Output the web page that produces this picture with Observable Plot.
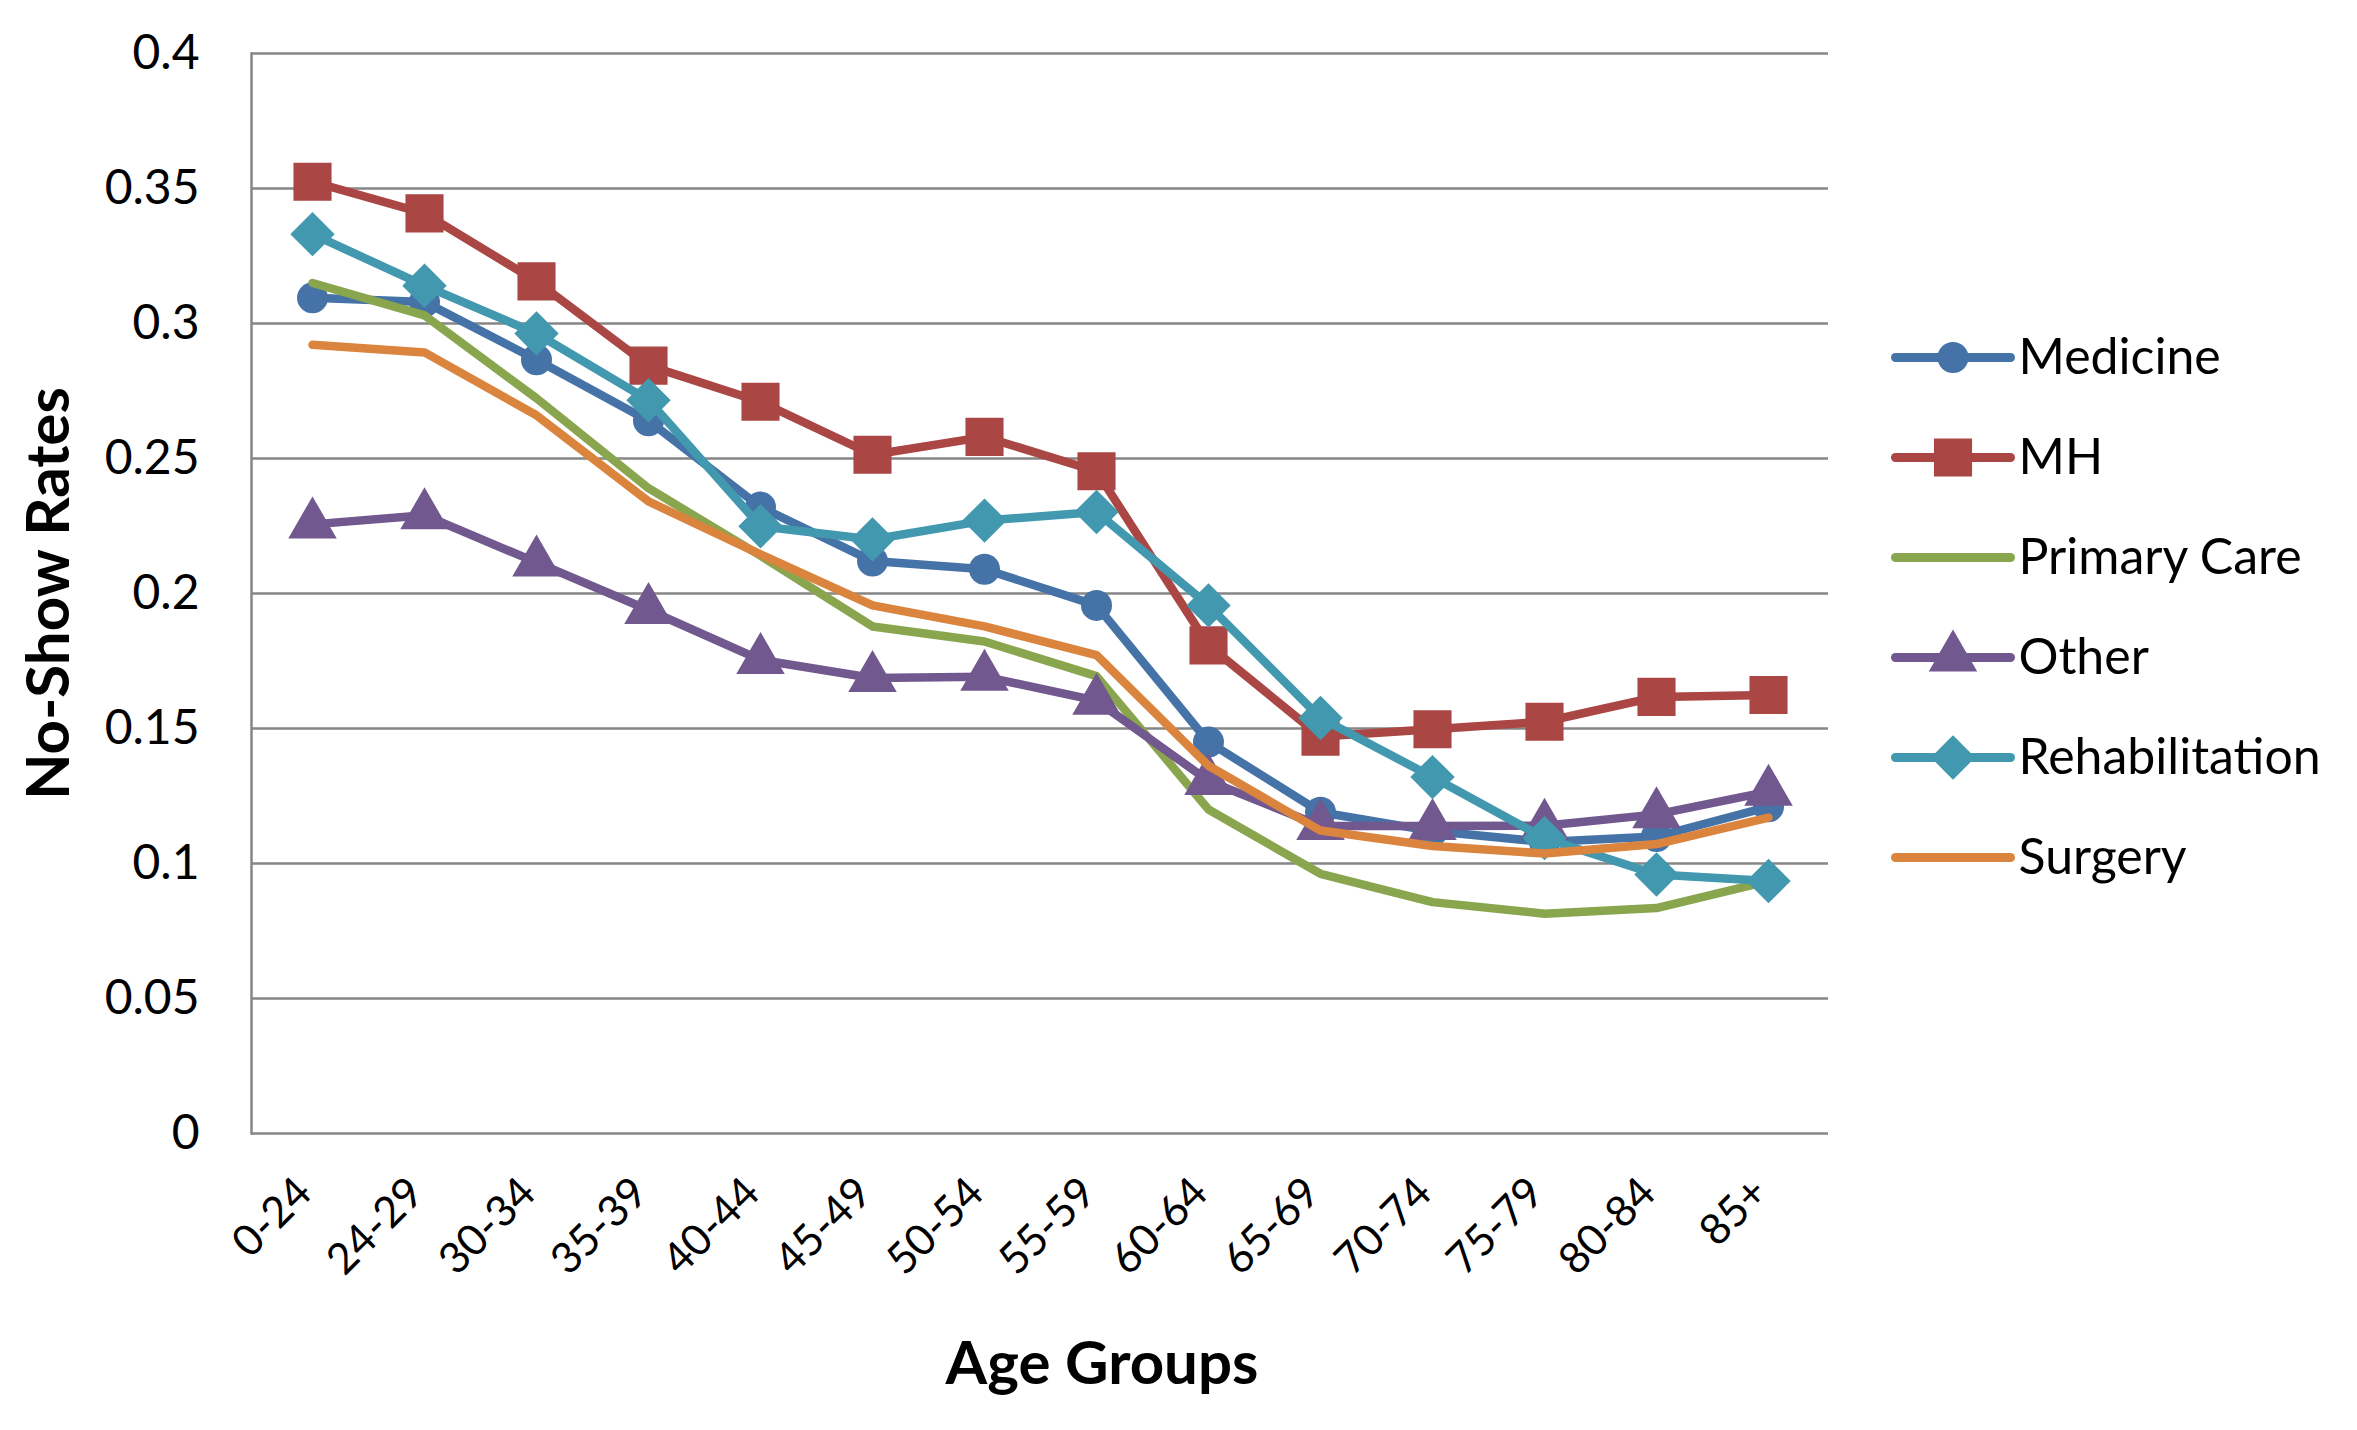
<!DOCTYPE html>
<html><head><meta charset="utf-8">
<script src="https://cdn.jsdelivr.net/npm/d3@7"></script>
<script src="https://cdn.jsdelivr.net/npm/@observablehq/plot@0.6"></script>
<style>
html,body{margin:0;padding:0;background:#fff;}
#chart{position:relative;width:2357px;height:1430px;font-family:Lato,"Open Sans",sans-serif;}
#legend{position:absolute;left:1887px;top:0;}
#main{position:absolute;left:0;top:0;}
</style></head><body>
<div id="chart"><div id="main"></div><div id="legend"></div></div>
<script>
const ageGroups = ["0-24","24-29","30-34","35-39","40-44","45-49","50-54","55-59","60-64","65-69","70-74","75-79","80-84","85+"];
const medicine       = [0.3095,0.308,0.2866,0.264,0.232,0.212,0.209,0.1956,0.145,0.119,0.112,0.108,0.110,0.121];
const mh             = [0.3525,0.3408,0.3156,0.2844,0.271,0.2514,0.258,0.2453,0.1808,0.147,0.1497,0.1525,0.1617,0.1624];
const primaryCare    = [0.3150,0.303,0.2723,0.239,0.214,0.1878,0.1822,0.1694,0.120,0.0962,0.0857,0.0814,0.0835,0.0935];
const other          = [0.2256,0.229,0.2115,0.1939,0.1754,0.1687,0.1692,0.1603,0.1306,0.1139,0.1139,0.114,0.1182,0.1266];
const rehabilitation = [0.3331,0.314,0.2963,0.2716,0.2249,0.220,0.227,0.2302,0.1956,0.1539,0.132,0.1094,0.0959,0.0935];
const surgery        = [0.2921,0.2893,0.266,0.2341,0.2145,0.1956,0.1878,0.1772,0.1362,0.1122,0.1065,0.1037,0.1072,0.117];

const seriesNames   = ["Medicine","MH","Primary Care","Other","Rehabilitation","Surgery"];
const seriesValues  = [medicine, mh, primaryCare, other, rehabilitation, surgery];
const seriesColors  = ["#4572A7","#AA4643","#89A54E","#71588F","#4198AF","#DB843D"];
const seriesSymbols = ["circle","square",null,"triangle","diamond2",null];
const symbolRadius  = {circle:15.5, square:21.5, triangle:18, diamond2:20};
const yTicks = [0,0.05,0.1,0.15,0.2,0.25,0.3,0.35,0.4];
const xTitle = "Age Groups";
const yTitle = "No-Show Rates";

const rows = seriesNames.flatMap((s,i)=>ageGroups.map((a,j)=>({series:s, age:a, value:seriesValues[i][j]})));

const seriesMarks = seriesNames.flatMap((s,i)=>{
  const d = rows.filter(r=>r.series===s);
  const m = [Plot.lineY(d,{x:"age",y:"value",stroke:seriesColors[i],strokeWidth:8.5,strokeLinejoin:"round",strokeLinecap:"round"})];
  if (seriesSymbols[i]) m.push(Plot.dot(d,{x:"age",y:"value",symbol:()=>seriesSymbols[i],fill:seriesColors[i],stroke:"none",r:symbolRadius[seriesSymbols[i]]}));
  return m;
});

const main = Plot.plot({
  width:2357, height:1430,
  marginLeft:251, marginRight:529, marginTop:53, marginBottom:297,
  style:{fontFamily:"Lato, 'Open Sans', sans-serif", background:"white", color:"black", overflow:"visible"},
  x:{type:"point", domain:ageGroups, padding:0.5},
  y:{domain:[0,0.4]},
  marks:[
    Plot.gridY(yTicks,{stroke:"#868686",strokeOpacity:1,strokeWidth:2.5}),
    Plot.frame({anchor:"left",stroke:"#868686",strokeWidth:2.5}),
    Plot.axisY(yTicks,{tickSize:0,tickPadding:52,tickFormat:d3.format("~g"),fontSize:48,label:null,fill:"black"}),
    Plot.axisX({tickSize:0,tickRotate:-45,tickPadding:52,dx:-8,fontSize:43,label:null,fill:"black"}),
    ...seriesMarks,
    Plot.text([yTitle],{frameAnchor:"left",rotate:-90,textAnchor:"middle",dx:-202,fontSize:60,fontWeight:"bold",fill:"black"}),
    Plot.text([xTitle],{frameAnchor:"bottom",textAnchor:"middle",dx:62,dy:250,fontSize:60,fontWeight:"bold",fill:"black"})
  ]
});
document.getElementById("main").appendChild(main);

const legendRows = seriesNames.map((s,i)=>({series:s,color:seriesColors[i],symbol:seriesSymbols[i]}));
const legendDots = legendRows.filter(d=>d.symbol).map(d=>
  Plot.dot([d],{x:()=>0.5,y:"series",symbol:()=>d.symbol,fill:d.color,stroke:"none",r:symbolRadius[d.symbol]}));
const legend = Plot.plot({
  width:470, height:1430, margin:0,
  style:{fontFamily:"Lato, 'Open Sans', sans-serif", background:"transparent", color:"black", overflow:"visible"},
  x:{domain:[0,1], range:[8,123], axis:null},
  y:{type:"point", domain:seriesNames, range:[357,857], padding:0, axis:null},
  marks:[
    Plot.link(legendRows,{x1:()=>0,x2:()=>1,y1:"series",y2:"series",stroke:d=>d.color,strokeWidth:9,strokeLinecap:"round"}),
    ...legendDots,
    Plot.text(legendRows,{x:()=>1,y:"series",text:"series",textAnchor:"start",dx:8,fontSize:50,fill:"black"})
  ]
});
document.getElementById("legend").appendChild(legend);
</script>
</body></html>
